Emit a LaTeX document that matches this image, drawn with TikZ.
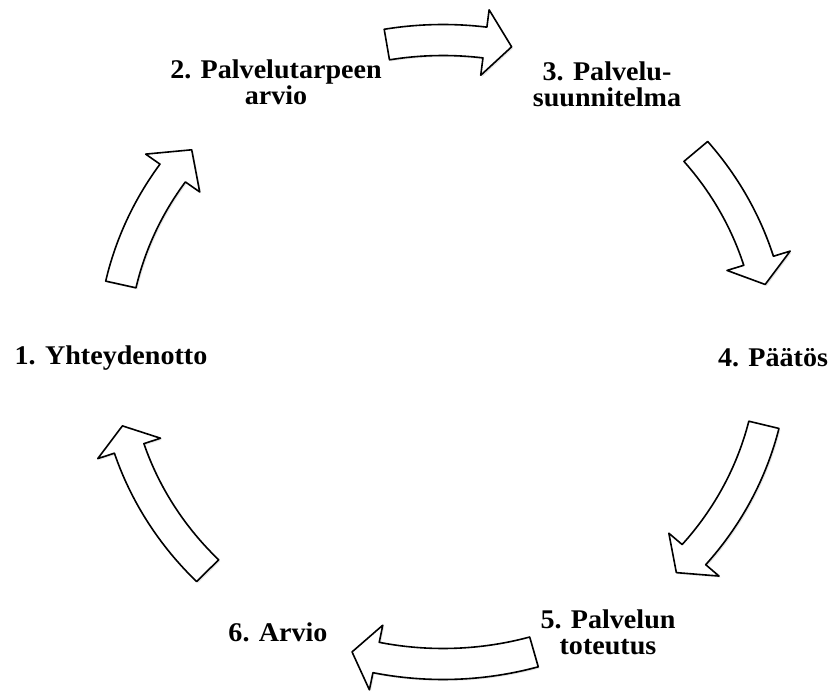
\documentclass[tikz,border=0pt]{standalone}
\usepackage{fontspec}
\newfontfamily\lblfont{Liberation Serif}[FakeStretch=1.04]
\usepackage{tikz}
\usetikzlibrary{positioning,shadows}

\begin{document}
\begin{tikzpicture}[x=1pt, y=1pt,
  phase/.style={font=\lblfont\bfseries\fontsize{27}{26}\selectfont, align=center, inner sep=0pt},
  cyclearrow/.style={draw, fill=white, line width=1.6pt, line join=round,
    drop shadow={shadow xshift=1.5pt, shadow yshift=-1.5pt, opacity=0.2}},
]
\useasboundingbox (0,0) rectangle (832,697);
\coordinate (c) at (443,345);

\node[phase] (yhteys) at (111,339) {1. Yhteydenotto};
\node[phase] (tarve) at (276,615) {2. Palvelutarpeen\\arvio};
\node[phase] (suunnitelma) at (607,613) {3. Palvelu-\\suunnitelma};
\node[phase] (paatos) at (773,339) {4. Päätös};
\node[phase] (toteutus) at (608,65) {5. Palvelun\\toteutus};
\node[phase] (arvio) at (278,65) {6. Arvio};

% block arrows round the cycle: tail / head base / tip angle
\foreach \a/\b/\t in {167.5/145/139.6, 99.8/82.7/78, 40/17/12.5,
                      -13.5/-40.5/-45, -74/-101.7/-106, 224.5/198/193.7} {
  \draw[cyclearrow] ([shift={(c)}]\a:345.5pt and 327.5pt)
    arc[start angle=\a, end angle=\b, x radius=345.5pt, y radius=327.5pt]
    -- ([shift={(c)}]\b:363pt and 345pt)
    -- ([shift={(c)}]\t:330pt and 312pt)
    -- ([shift={(c)}]\b:297pt and 279pt)
    -- ([shift={(c)}]\b:314.5pt and 296.5pt)
    arc[start angle=\b, end angle=\a, x radius=314.5pt, y radius=296.5pt]
    -- cycle;
}
\end{tikzpicture}
\end{document}
